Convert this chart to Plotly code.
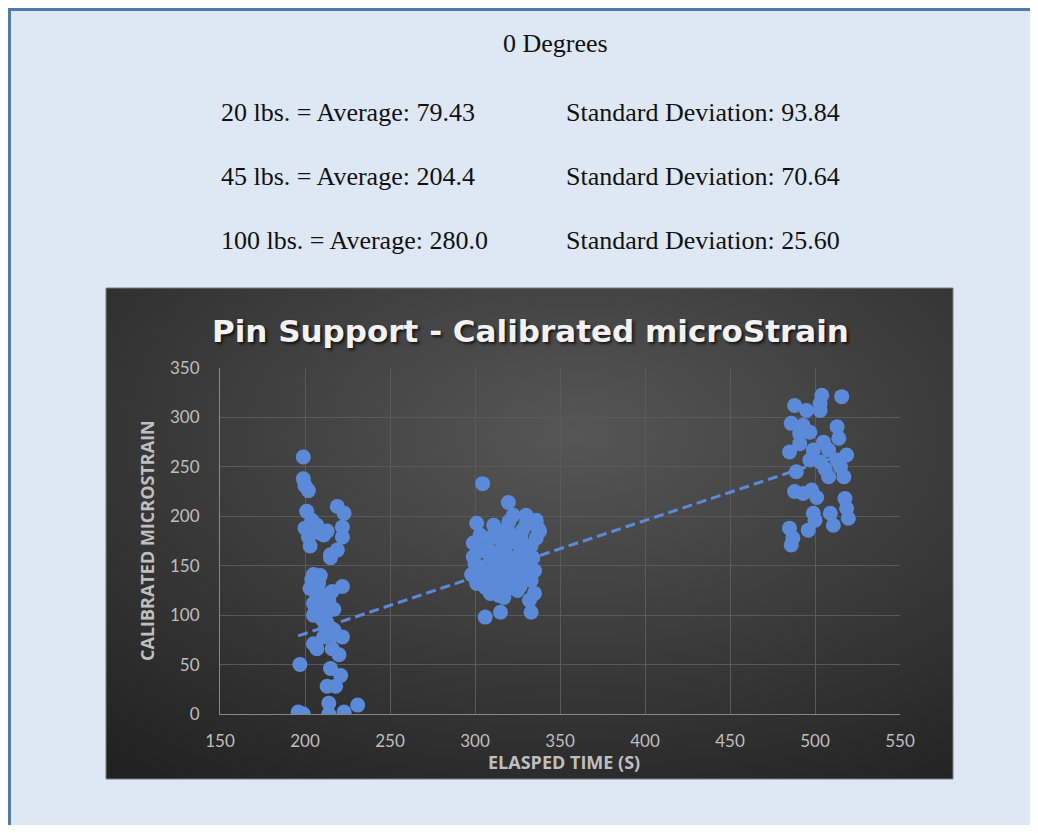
import base64
import plotly.graph_objects as go

# ---------------- data ----------------
time_20lb = [199, 199, 200, 202, 201, 204, 200, 204, 202, 203, 209, 211, 219, 223, 222,
             222, 219, 215, 215, 205, 203, 208, 209, 216, 222, 205, 211, 205, 209, 217,
             213, 217, 211, 222, 207, 205, 216, 220, 197, 215, 221, 213, 218, 214, 214,
             223, 231, 196, 199, 217, 207, 212, 206, 214, 210, 213, 204, 209, 212, 205,
             207, 213]
strain_20lb = [260, 238, 231, 226, 205, 196, 188, 188, 179, 170, 183, 181, 210, 203, 189,
               179, 166, 161, 158, 141, 127, 132, 122, 124, 129, 112, 112, 100, 102, 106,
               92, 85, 78, 78, 66, 71, 66, 60, 50, 46, 39, 28, 28, 11, 0,
               2, 9, 2, 0, 80, 118, 120, 108, 115, 96, 103, 136, 140, 88, 186,
               191, 185]

time_45lb = [304.5, 319.6, 306, 315, 333, 314, 335, 332, 301, 311, 322.5, 330, 336, 337, 336,
             328, 319, 303, 299, 307, 315, 324.5, 329, 299, 309, 319, 326.5, 331, 303, 314,
             321.5, 298, 307, 317, 328, 301, 311, 320.6, 326.5, 330, 309, 319.6,
             305, 312, 318, 322, 326, 310, 316, 328, 333, 338, 302, 306, 313, 324,
             335, 300, 308, 320, 330, 317, 325, 333, 311, 323, 304, 316, 327, 334]
strain_45lb = [233, 214, 98, 103, 103, 120, 122, 115, 193, 191, 201, 201, 196, 188, 178,
               186, 188, 181, 173, 169, 176, 173, 171, 159, 159, 159, 162, 152, 149, 149,
               149, 141, 139, 139, 141, 132, 130, 132, 129, 139, 122, 127,
               165, 184, 170, 180, 150, 146, 155, 165, 170, 185, 135, 128, 136, 138,
               145, 152, 178, 195, 192, 118, 125, 135, 163, 158, 145, 128, 178, 158]

time_100lb = [504, 515.7, 488, 495, 503, 503, 486, 493, 497, 491, 513, 514, 505, 491, 485,
              499, 508, 518.6, 497, 503, 513, 506, 515, 489, 508, 517, 488, 493, 498, 501,
              517.6, 518.6, 499, 509, 519.6, 500, 510.8, 496, 485, 487, 486]
strain_100lb = [322.5, 321, 312, 307, 307, 314, 294, 292, 285, 283.5, 290.5, 279, 275, 273.5, 265,
                267, 267, 262, 257, 255, 257, 248, 250, 245, 240, 240, 225, 223, 226.5, 219,
                218, 208, 203, 203, 198, 196, 191, 186, 188, 178, 171]

# linear trendline
trend_slope = 0.572
trend_intercept = -33.1

x_ticks = [150, 200, 250, 300, 350, 400, 450, 500, 550]
y_ticks = [0, 50, 100, 150, 200, 250, 300, 350]

title_text = "Pin Support - Calibrated microStrain"
x_title = "ELASPED TIME (S)"
y_title = "CALIBRATED MICROSTRAIN"
header = "0 Degrees"
stats_left = ["20 lbs. = Average: 79.43", "45 lbs. = Average: 204.4", "100 lbs. = Average: 280.0"]
stats_right = ["Standard Deviation: 93.84", "Standard Deviation: 70.64", "Standard Deviation: 25.60"]

# ---------------- layout helpers ----------------
W, H = 1030, 817
OX, OY = 8, 8            # body margin of the page
ML, MR, MT, MB = 212, 138, 360, 111
PL, PR = OX + ML, OX + W - MR      # plot area in page pixels (x)
PT, PB = OY + MT, OY + H - MB      # plot area in page pixels (y)


def px_x(X):
    return (X - PL) / (PR - PL)


def px_y(Y):
    return (PB - Y) / (PB - PT)


all_x = time_20lb + time_45lb + time_100lb
all_y = strain_20lb + strain_45lb + strain_100lb
tx = [min(all_x), max(all_x)]
ty = [trend_slope * v + trend_intercept for v in tx]

blue = "#5b8bd8"

fig = go.Figure()
fig.add_trace(go.Scatter(x=tx, y=ty, mode="lines",
                         line=dict(color=blue, width=3, dash="10px,5px"),
                         hoverinfo="skip", showlegend=False))
fig.add_trace(go.Scatter(x=all_x, y=all_y, mode="markers",
                         marker=dict(color=blue, size=15, line=dict(width=0)),
                         showlegend=False))

# chart-area radial gradient as an SVG image
CX0, CX1, CY0, CY1 = 106, 953, 288, 779
cw, ch = CX1 - CX0, CY1 - CY0
svg = (f'<svg xmlns="http://www.w3.org/2000/svg" width="{cw}" height="{ch}" '
       f'viewBox="0 0 {cw} {ch}" preserveAspectRatio="none"><defs>'
       '<radialGradient id="g" cx="0.55" cy="0.3" r="0.85">'
       '<stop offset="0" stop-color="#565656"/><stop offset="1" stop-color="#222222"/>'
       '</radialGradient></defs>'
       f'<rect width="{cw}" height="{ch}" fill="url(#g)"/></svg>')
src = "data:image/svg+xml;base64," + base64.b64encode(svg.encode()).decode()

tick_font = dict(family="Lato", size=17, color="#bfbfbf")
axis_title_font = dict(family="Open Sans", size=18, color="#bfbfbf", weight="bold")
serif = dict(family="Liberation Serif", size=26, color="#111111")

annotations = [
    dict(text=header, x=px_x(555.5), y=px_y(44), xref="paper", yref="paper",
         xanchor="center", yanchor="middle", showarrow=False, font=serif),
    dict(text=title_text, x=px_x(530), y=px_y(331), xref="paper", yref="paper",
         xanchor="center", yanchor="middle", showarrow=False,
         font=dict(family="DejaVu Sans", size=31, color="#f2f2f2", weight="bold",
                   shadow="2px 2px 3px rgba(0,0,0,0.7)")),
    dict(text=x_title, x=px_x(564), y=px_y(762), xref="paper", yref="paper",
         xanchor="center", yanchor="middle", showarrow=False, font=axis_title_font),
    dict(text=y_title, x=px_x(147), y=px_y(541), xref="paper", yref="paper",
         xanchor="center", yanchor="middle", showarrow=False, textangle=-90,
         font=axis_title_font),
]
for i, (l, r) in enumerate(zip(stats_left, stats_right)):
    yc = 112 + 64 * i
    annotations.append(dict(text=l, x=px_x(219), y=px_y(yc), xref="paper", yref="paper",
                            xanchor="left", yanchor="middle", showarrow=False, font=serif))
    annotations.append(dict(text=r, x=px_x(564), y=px_y(yc), xref="paper", yref="paper",
                            xanchor="left", yanchor="middle", showarrow=False, font=serif))

shapes = [
    # chart area border
    dict(type="rect", xref="paper", yref="paper", x0=px_x(CX0), x1=px_x(CX1),
         y0=px_y(CY1), y1=px_y(CY0), line=dict(color="#7c7c7c", width=1), layer="below"),
    # page frame (top and left edges)
    dict(type="line", xref="paper", yref="paper", x0=px_x(9), x1=px_x(1040),
         y0=px_y(9.5), y1=px_y(9.5), line=dict(color="#4f7aab", width=3)),
    dict(type="line", xref="paper", yref="paper", x0=px_x(9.5), x1=px_x(9.5),
         y0=px_y(830), y1=px_y(8), line=dict(color="#4f7aab", width=3)),
]

fig.update_layout(
    width=W, height=H,
    margin=dict(l=ML, r=MR, t=MT, b=MB, pad=0),
    paper_bgcolor="#dde8f4",
    plot_bgcolor="rgba(0,0,0,0)",
    images=[dict(source=src, xref="paper", yref="paper", x=px_x(CX0), y=px_y(CY0),
                 sizex=cw / (PR - PL), sizey=ch / (PB - PT), xanchor="left", yanchor="top",
                 sizing="stretch", layer="below")],
    annotations=annotations,
    shapes=shapes,
    showlegend=False,
    xaxis=dict(range=[150, 550], tickvals=x_ticks, ticktext=[str(v) for v in x_ticks],
               showgrid=True, gridcolor="#5a5a5a", gridwidth=1, zeroline=False,
               showline=True, linecolor="#888888", linewidth=1, ticks="",
               tickfont=tick_font, ticklabelstandoff=12, fixedrange=True),
    yaxis=dict(range=[0, 350], tickvals=y_ticks, ticktext=[str(v) for v in y_ticks],
               showgrid=True, gridcolor="#5a5a5a", gridwidth=1, zeroline=False,
               showline=True, linecolor="#888888", linewidth=1, ticks="",
               tickfont=tick_font, ticklabelstandoff=16, fixedrange=True),
)

fig.write_html("out.html")
